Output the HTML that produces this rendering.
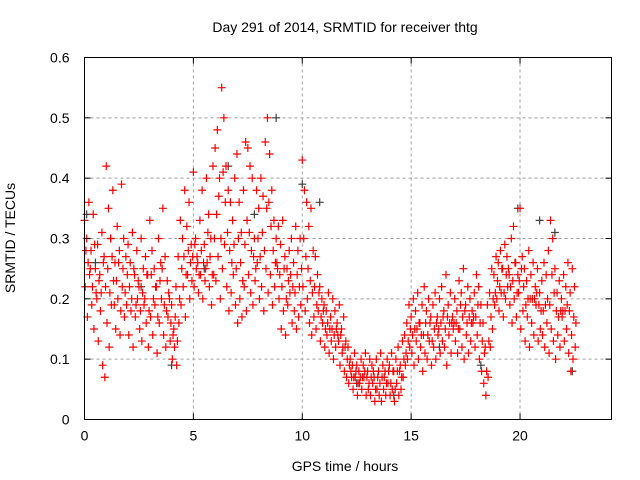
<!DOCTYPE html>
<html><head><meta charset="utf-8"><style>
html,body{margin:0;padding:0;background:#fff;}
svg{display:block;font-family:"Liberation Sans",sans-serif;}
</style></head><body>
<svg id="chart" width="640" height="480" viewBox="0 0 640 480"></svg>
<script>
const xTicks=[0,5,10,15,20];
const yTicks=[0,0.1,0.2,0.3,0.4,0.5,0.6];
const yTickLabels=["0","0.1","0.2","0.3","0.4","0.5","0.6"];
const step=0.1;
const seriesA=[.33,.30,.36,.28,.34,.25,.29,.24,.31,.27,
.42,.35,.30,.38,.26,.32,.28,.39,.30,.27,
.29,.26,.31,.24,.28,.22,.30,.25,.27,.24,
.33,.28,.25,.22,.30,.26,.35,.27,.23,.20,
.19,.15,.22,.27,.33,.30,.38,.32,.36,.29,
.41,.30,.26,.33,.38,.29,.40,.34,.30,.42,
.45,.48,.40,.55,.50,.42,.38,.36,.33,.40,
.44,.36,.31,.38,.46,.45,.42,.40,.30,.38,
.35,.40,.37,.46,.50,.44,.38,.33,.30,.32,
.29,.33,.27,.25,.28,.30,.26,.32,.28,.30,
.43,.38,.36,.32,.35,.28,.27,.24,.22,.20,
.19,.18,.21,.17,.20,.18,.16,.19,.15,.17,
.13,.12,.10,.09,.11,.09,.08,.10,.09,.11,
.08,.10,.09,.07,.10,.08,.11,.09,.08,.10,
.09,.11,.08,.10,.12,.09,.13,.14,.16,.19,
.17,.20,.18,.21,.16,.19,.22,.18,.20,.17,
.19,.21,.17,.20,.22,.18,.24,.19,.21,.17,
.20,.18,.23,.21,.25,.19,.22,.20,.18,.21,
.24,.22,.19,.16,.12,.19,.21,.25,.24,.27,
.26,.28,.25,.29,.27,.24,.30,.32,.26,.24,
.35,.27,.25,.23,.28,.24,.26,.22,.25,.21,
.23,.26,.24,.28,.33,.30,.25,.21,.23,.20,
.24,.22,.26,.21,.25,.22];
const seriesB=[.22,.17,.24,.19,.15,.21,.13,.18,.09,.07,
.16,.12,.19,.23,.15,.20,.14,.22,.17,.19,
.14,.18,.12,.17,.20,.15,.13,.19,.16,.12,
.17,.14,.19,.11,.16,.20,.14,.12,.17,.13,
.10,.12,.09,.16,.19,.22,.17,.24,.20,.23,
.22,.25,.21,.24,.20,.23,.26,.22,.19,.24,
.23,.27,.20,.25,.29,.22,.18,.21,.24,.19,
.16,.20,.17,.22,.18,.24,.21,.19,.23,.26,
.20,.22,.18,.25,.21,.24,.19,.22,.26,.20,
.15,.18,.14,.19,.21,.16,.18,.15,.17,.19,
.22,.18,.20,.16,.14,.17,.15,.18,.13,.16,
.12,.14,.11,.13,.10,.12,.14,.09,.11,.08,
.07,.06,.08,.05,.07,.04,.06,.05,.07,.04,
.05,.04,.06,.03,.05,.04,.03,.05,.04,.06,
.04,.05,.03,.06,.04,.05,.07,.09,.10,.12,
.11,.09,.13,.10,.12,.08,.11,.10,.13,.09,
.12,.10,.14,.11,.13,.12,.09,.14,.11,.15,
.13,.11,.15,.12,.10,.14,.11,.13,.16,.12,
.14,.10,.08,.06,.04,.07,.12,.15,.19,.20,
.18,.21,.17,.20,.22,.19,.16,.20,.17,.21,
.15,.18,.13,.17,.12,.16,.14,.19,.13,.15,
.14,.12,.16,.11,.15,.13,.10,.14,.12,.17,
.13,.15,.11,.08,.10,.12];
const seriesC=[.28,.26,.25,.22,.29,.20,.23,.21,.26,.22,
.25,.21,.27,.19,.23,.26,.18,.25,.21,.24,
.22,.20,.25,.19,.23,.18,.21,.20,.24,.18,
.24,.20,.22,.17,.23,.25,.19,.18,.21,.16,
.14,.17,.13,.20,.25,.27,.24,.28,.26,.27,
.29,.27,.24,.28,.26,.25,.31,.27,.24,.30,
.34,.37,.30,.41,.36,.31,.28,.26,.29,.25,
.30,.26,.23,.29,.33,.31,.28,.27,.25,.30,
.27,.31,.28,.35,.36,.32,.28,.26,.25,.24,
.22,.25,.20,.23,.24,.22,.21,.24,.22,.25,
.30,.27,.25,.23,.21,.22,.19,.21,.17,.18,
.15,.16,.15,.15,.14,.15,.13,.14,.12,.12,
.10,.09,.07,.07,.08,.06,.07,.07,.08,.07,
.06,.07,.08,.05,.07,.06,.07,.07,.06,.08,
.06,.08,.05,.08,.08,.07,.10,.11,.13,.15,
.14,.15,.15,.16,.14,.14,.16,.14,.16,.13,
.15,.16,.15,.16,.17,.15,.17,.16,.16,.16,
.16,.15,.19,.17,.18,.16,.17,.16,.17,.17,
.19,.16,.13,.11,.08,.13,.17,.20,.21,.23,
.22,.25,.21,.24,.25,.22,.23,.26,.21,.23,
.25,.22,.19,.20,.20,.20,.20,.21,.19,.18,
.18,.19,.20,.19,.24,.21,.18,.17,.18,.18,
.18,.19,.18,.14,.17,.16];
const grayTimes=[0.1,0.5,1.2,2.6,4.0,5.5,6.6,7.8,8.8,10.0,10.8,12.5,14.2,16.3,18.2,19.9,20.9,21.6,22.4];
const grayValues=[0.34,0.26,0.30,0.22,0.09,0.25,0.42,0.34,0.50,0.39,0.36,0.06,0.04,0.12,0.09,0.35,0.33,0.31,0.08];

const svg=document.getElementById('chart');
const NS='http://www.w3.org/2000/svg';
const L=84.5,R=611.5,T=57.5,B=419.5,XMAX=24.2,YMAX=0.6;
function xs(v){return L+(R-L)*v/XMAX;}
function ys(v){return B-(B-T)*v/YMAX;}
function mk(tag,attrs,parent){const e=document.createElementNS(NS,tag);for(const k in attrs)e.setAttribute(k,attrs[k]);(parent||svg).appendChild(e);return e;}

const grid=mk('g',{});


xTicks.forEach(v=>{if(v>0){const l=mk('line',{x1:xs(v),x2:xs(v),y1:T,y2:B,stroke:'#a0a0a0','stroke-dasharray':'3,3'},grid);}});
yTicks.forEach(v=>{if(v>0&&v<YMAX){const l=mk('line',{x1:L,x2:R,y1:ys(v),y2:ys(v),stroke:'#a0a0a0','stroke-dasharray':'3,3'},grid);}});

const pts=mk('g',{'stroke-width':1.2});


function plus(t,v,color,name){
  const x=xs(t),y=ys(v);
  const p=mk('path',{d:`M${x-4},${y}h8M${x},${y-4}v8`,stroke:color},pts);
  
  
}
grayTimes.forEach((t,i)=>plus(t,grayValues[i],'#404040','gray-point'));
[seriesA,seriesB,seriesC].forEach((s,k)=>s.forEach((v,i)=>plus(i*step+k*0.033,v,'#ff0000','red-point')));

const frame=mk('rect',{x:L,y:T,width:R-L,height:B-T,fill:'none',stroke:'#000'});



xTicks.forEach((v,i)=>{
  mk('line',{x1:xs(v),x2:xs(v),y1:B,y2:B-6,stroke:'#000'});
  mk('line',{x1:xs(v),x2:xs(v),y1:T,y2:T+6,stroke:'#000'});
  const t=mk('text',{x:xs(v),y:B+21,'text-anchor':'middle','font-size':14,fill:'#000'});
  t.textContent=String(v);
  
  
});
yTicks.forEach((v,i)=>{
  mk('line',{x1:L,x2:L+6,y1:ys(v),y2:ys(v),stroke:'#000'});
  mk('line',{x1:R,x2:R-6,y1:ys(v),y2:ys(v),stroke:'#000'});
  const t=mk('text',{x:L-15,y:ys(v)+5,'text-anchor':'end','font-size':14,fill:'#000'});
  t.textContent=yTickLabels[i];
  
  
});

const title=mk('text',{x:345,y:32,'text-anchor':'middle','font-size':14,fill:'#000'});
title.textContent='Day 291 of 2014, SRMTID for receiver thtg';


const xl=mk('text',{x:345,y:471,'text-anchor':'middle','font-size':14,fill:'#000'});
xl.textContent='GPS time / hours';


const yl=mk('text',{x:0,y:0,'text-anchor':'middle','font-size':14,fill:'#000',transform:'translate(15,238) rotate(-90)'});
yl.textContent='SRMTID / TECUs';


</script>
</body></html>
